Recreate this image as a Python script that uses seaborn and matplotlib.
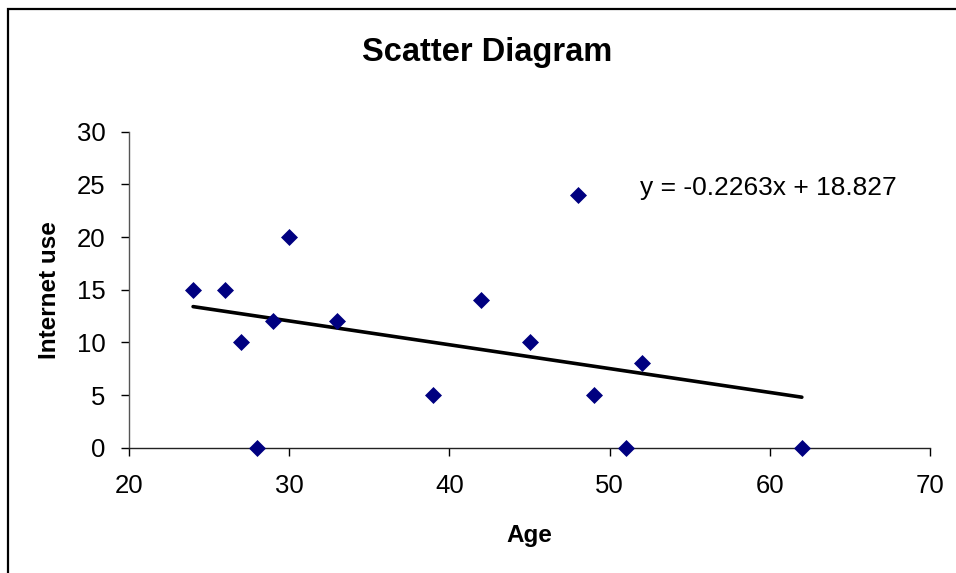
import matplotlib
matplotlib.use("Agg")
import matplotlib.pyplot as plt
import seaborn as sns
import pandas as pd
from matplotlib.patches import Rectangle

age = [24, 26, 27, 28, 29, 30, 33, 39, 42, 45, 48, 49, 51, 52, 62]
internet_use = [15, 15, 10, 0, 12, 20, 12, 5, 14, 10, 24, 5, 0, 8, 0]
x_ticks = [20, 30, 40, 50, 60, 70]
y_ticks = [0, 5, 10, 15, 20, 25, 30]
equation = "y = -0.2263x + 18.827"

df = pd.DataFrame({"Age": age, "Internet use": internet_use})

sns.set_theme(style="white")
plt.rcParams['font.family'] = ['Liberation Sans', 'DejaVu Sans']
plt.rcParams['text.color'] = 'black'
plt.rcParams['axes.labelcolor'] = 'black'

fig = plt.figure(figsize=(9.56, 5.73), dpi=100)
ax = fig.add_axes([129/956, 1-447.7/573, (930-129)/956, (447.7-131.7)/573])

sns.regplot(data=df, x="Age", y="Internet use", ax=ax, ci=None, truncate=True,
            scatter=False, line_kws=dict(color="black", lw=2.6))
sns.scatterplot(data=df, x="Age", y="Internet use", ax=ax, marker="D", s=75,
                color="#000080", edgecolor="#000080", linewidth=0, zorder=3,
                clip_on=False)

ax.set_xlim(20, 70)
ax.set_ylim(0, 30)
ax.set_xticks(x_ticks)
ax.set_yticks(y_ticks)
ax.tick_params(axis="both", labelsize=18.5, colors="black", labelcolor="black",
               length=6, width=1, direction="out", left=True, bottom=True)
ax.tick_params(axis="y", pad=11)
ax.tick_params(axis="x", pad=13)
for s in ["top", "right"]:
    ax.spines[s].set_visible(False)
ax.spines["left"].set_color("#555555")
ax.spines["bottom"].set_color("#222222")
ax.spines["left"].set_linewidth(1)
ax.spines["bottom"].set_linewidth(1)
ax.set_facecolor("white")

ax.set_xlabel("Age", fontsize=17.5, fontweight="bold", labelpad=19, color="black")
ax.set_ylabel("Internet use", fontsize=17.5, fontweight="bold", labelpad=11, color="black")

ax.text(51.9, 24.66, equation, fontsize=19, va="center", ha="left", color="black")

fig.text(487/956, 1-52/573, "Scatter Diagram", fontsize=23.5, fontweight="bold",
         ha="center", va="center", color="black")

fig.patches.append(Rectangle((8/956, -0.1), 1.2, 1-9/573+0.1, transform=fig.transFigure,
                             fill=False, edgecolor="black", lw=1.6))

fig.savefig("out.png", dpi=100)
